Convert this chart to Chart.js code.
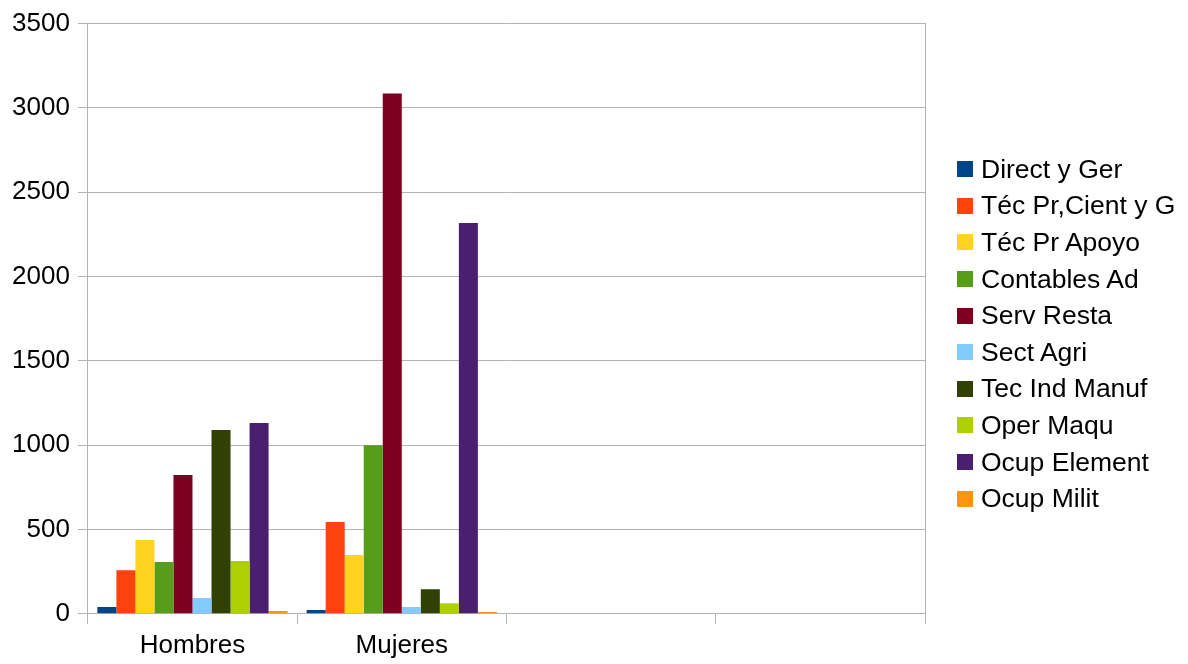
<!DOCTYPE html>
<html>
<head>
<meta charset="utf-8">
<script src="https://cdn.jsdelivr.net/npm/chart.js@4/dist/chart.umd.min.js"></script>
<style>
  html, body { margin: 0; padding: 0; background: #fff; }
  #wrap { position: relative; width: 1188px; height: 664px; }
  #legend { position: absolute; left: 957px; top: 151px; margin: 0; padding: 0; list-style: none;
    font-family: "Liberation Sans", Arial, sans-serif; font-size: 26.5px; color: #000; }
  #legend li { display: flex; align-items: center; height: 36.6px; white-space: nowrap; }
  #legend span { display: inline-block; width: 16px; height: 16px; margin-right: 8px; }
</style>
</head>
<body>
<div id="wrap"><canvas id="chart"></canvas><ul id="legend"></ul></div>
<script>
// categories and series
const categories = ['Hombres', 'Mujeres', '', ''];
const seriesNames = ['Direct y Ger', 'Téc Pr,Cient y G', 'Téc Pr Apoyo', 'Contables Ad', 'Serv Resta',
    'Sect Agri', 'Tec Ind Manuf', 'Oper Maqu', 'Ocup Element', 'Ocup Milit'];
const hombres = [40, 259, 437, 307, 823, 93, 1090, 313, 1131, 16];
const mujeres = [22, 544, 348, 1000, 3085, 40, 146, 63, 2317, 10];
const colors = ['#004586', '#ff420e', '#ffd320', '#579d1c', '#7e0021',
    '#83caff', '#314004', '#aecf00', '#4b1f6f', '#ff950e'];
const yTicks = [0, 500, 1000, 1500, 2000, 2500, 3000, 3500];

const gridColor = '#b3b3b3';
Chart.defaults.font.family = '"Liberation Sans", Arial, sans-serif';
Chart.defaults.font.size = 26;
Chart.defaults.color = '#000';

const datasets = seriesNames.map((name, i) => ({
    label: name,
    data: [hombres[i], mujeres[i], null, null],
    backgroundColor: colors[i],
    borderWidth: 0,
    barPercentage: 1,
    categoryPercentage: 10 / 11
}));

const chart = new Chart(document.getElementById('chart'), {
    type: 'bar',
    data: { labels: categories, datasets: datasets },
    options: {
        responsive: true,
        maintainAspectRatio: false,
        animation: false,
        layout: { padding: { left: 4, top: 10, bottom: -3, right: 263 } },
        plugins: {
            legend: { display: false },
            tooltip: { enabled: false }
        },
        scales: {
            x: {
                grid: {
                    color: gridColor,
                    drawOnChartArea: false,
                    tickLength: 10
                },
                border: { color: gridColor },
                ticks: { padding: 6, font: { size: 26 } }
            },
            y: {
                min: 0,
                max: 3500,
                afterBuildTicks: (scale) => {
                    scale.ticks = yTicks.map(v => ({ value: v }));
                },
                grid: { color: gridColor, tickLength: 10 },
                border: { color: gridColor },
                ticks: { padding: 8, font: { size: 26 }, callback: (v) => String(v) }
            },
            y2: {
                position: 'right',
                grid: { drawOnChartArea: false, drawTicks: false },
                border: { color: gridColor },
                ticks: { display: false },
                afterFit: (scale) => { scale.width = 0; }
            }
        }
    }
});

// legend built from the same series names and colours
const legend = document.getElementById('legend');
chart.data.datasets.forEach(ds => {
    const li = document.createElement('li');
    const box = document.createElement('span');
    box.style.background = ds.backgroundColor;
    li.appendChild(box);
    li.appendChild(document.createTextNode(ds.label));
    legend.appendChild(li);
});
</script>
</body>
</html>
